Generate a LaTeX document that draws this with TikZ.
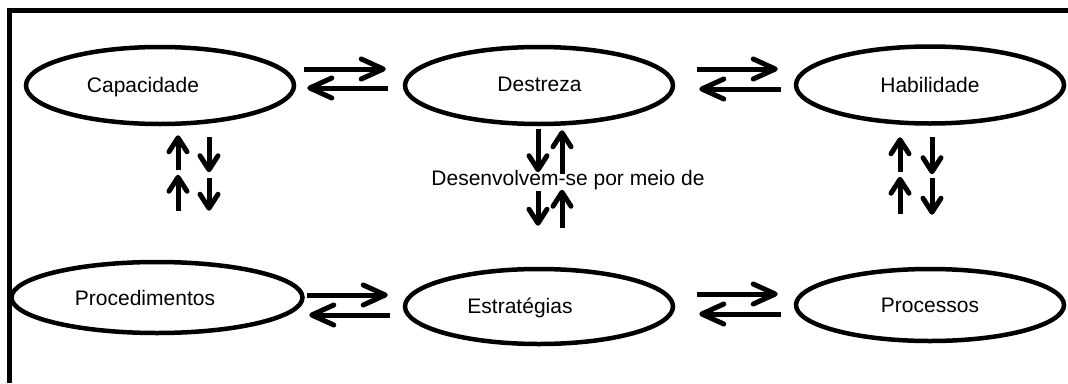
\documentclass[tikz,border=0pt]{standalone}
\usepackage{fontspec}
\setmainfont{Liberation Sans}
\usetikzlibrary{shapes.geometric,arrows.meta,calc}

\tikzset{
  oval/.style={ellipse, draw, line width=4.5pt, inner sep=0pt,
    minimum width=268pt, minimum height=77pt},
  word/.style={font=\fontsize{21}{25}\selectfont, inner sep=0pt, anchor=base},
  harr/.style={line width=5pt, -{Straight Barb[length=22pt,width=20pt,round]}},
  varr/.style={line width=5pt, -{Straight Barb[length=14pt,width=18pt,round]}},
}

\begin{document}
\begin{tikzpicture}[x=1pt,y=-1pt]

    \useasboundingbox (0,0) rectangle (1068,383);
    \draw[line width=4.5pt] (9.5,383) -- (9.5,10.5) -- (1068,10.5);

    % upper row
    \node[oval] (cap) at (160,85.5) {};
    \node[oval] (des) at (539,85.5) {};
    \node[oval] (hab) at (930,85) {};
    \node[word] (capT) at (143,92) {Capacidade};
    \node[word] (desT) at (539.5,91) {Destreza};
    \node[word] (habT) at (930,92) {Habilidade};

    % lower row
    \node[oval, minimum width=291pt, minimum height=71pt] (proc) at (157,297.5) {};
    \node[oval, minimum height=75pt] (est) at (539,306.5) {};
    \node[oval, minimum height=72pt] (pro) at (930,305) {};
    \node[word] (procT) at (145,305) {Procedimentos};
    \node[word] (estT) at (520,313) {Estratégias};
    \node[word] (proT) at (930,312) {Processos};

    \node[word] (via) at (568,185) {Desenvolvem-se por meio de};

    % horizontal pairs
    \draw[harr] ($(cap.east)+(8,-16.5)$) -- ($(des.west)+(-17,-16.5)$);
    \draw[harr] ($(des.west)+(-15,2.5)$) -- ($(cap.east)+(11,2.5)$);
    \draw[harr] ($(des.east)+(22,-16.5)$) -- ($(hab.west)+(-16,-16)$);
    \draw[harr] ($(hab.west)+(-13,4)$) -- ($(des.east)+(24,3.5)$);

    \draw[harr] ($(proc.east)+(2.5,-2.5)$) -- ($(est.west)+(-15,-11.5)$);
    \draw[harr] ($(est.west)+(-13,8.5)$) -- ($(proc.east)+(4.5,17.5)$);
    \draw[harr] ($(est.east)+(22,-12.5)$) -- ($(pro.west)+(-16,-11)$);
    \draw[harr] ($(pro.west)+(-13,9)$) -- ($(est.east)+(24,7.5)$);

    % vertical pairs, left
    \draw[varr] ($(cap.south)+(18,44)$) -- ($(cap.south)+(18,9)$);
    \draw[varr] ($(cap.south)+(49,11)$) -- ($(cap.south)+(49,46)$);
    \draw[varr] ($(proc.north)+(21,-49)$) -- ($(proc.north)+(21,-85)$);
    \draw[varr] ($(proc.north)+(52,-82)$) -- ($(proc.north)+(52,-49)$);

    % vertical pairs, middle
    \draw[varr] ($(des.south)+(-1,3)$) -- ($(des.south)+(-1,46)$);
    \draw[varr] ($(des.south)+(23,48)$) -- ($(des.south)+(23,4)$);
    \draw[varr] ($(est.north)+(-1,-76)$) -- ($(est.north)+(-1,-41)$);
    \draw[varr] ($(est.north)+(23,-39)$) -- ($(est.north)+(23,-77)$);

    % vertical pairs, right
    \draw[varr] ($(hab.south)+(-30,46.5)$) -- ($(hab.south)+(-30,11.5)$);
    \draw[varr] ($(hab.south)+(2,11.5)$) -- ($(hab.south)+(2,48.5)$);
    \draw[varr] ($(pro.north)+(-30,-53)$) -- ($(pro.north)+(-30,-90)$);
    \draw[varr] ($(pro.north)+(2,-89)$) -- ($(pro.north)+(2,-52)$);

\end{tikzpicture}
\end{document}
